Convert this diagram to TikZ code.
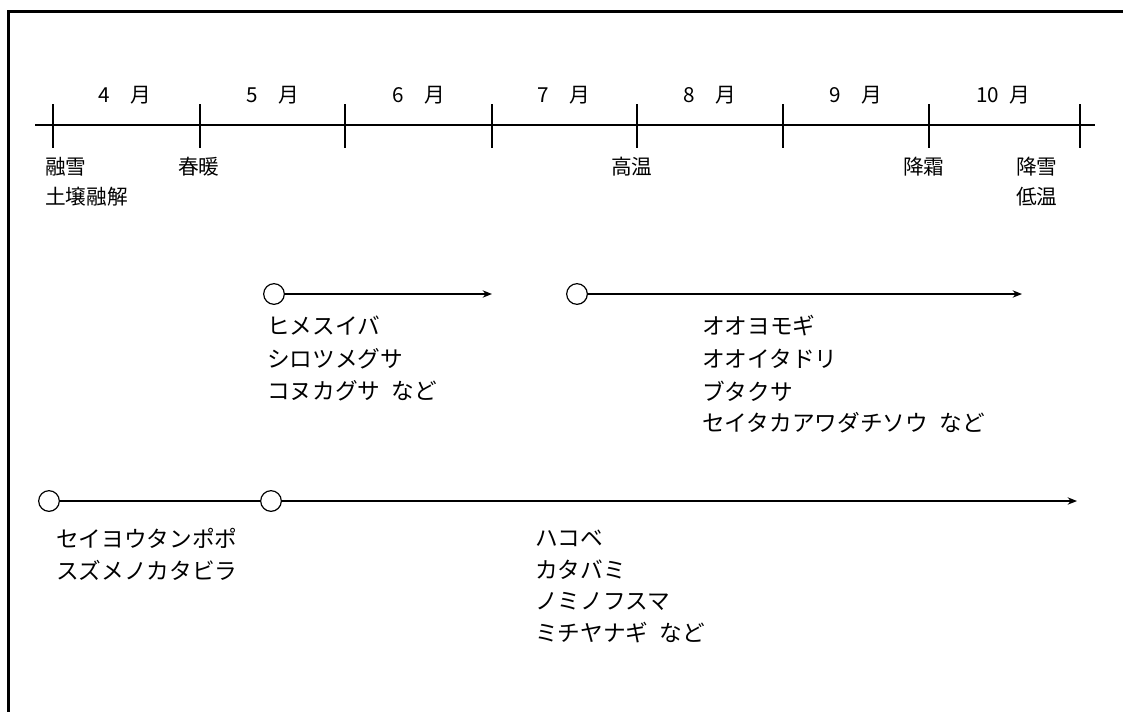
\documentclass[tikz,border=0pt]{standalone}
\usepackage{fontspec}
\setmainfont{Noto Sans CJK JP}
\usetikzlibrary{arrows.meta}
\begin{document}
\begin{tikzpicture}[x=0.75pt,y=-0.75pt,
  frameline/.style={line width=1.9pt},
  axisline/.style={line width=1.3pt},
  tickline/.style={line width=1pt},
  lbl/.style={font=\fontsize{15.5}{18}\selectfont, inner sep=0pt, anchor=west},
  kana/.style={font=\fontsize{17}{20}\selectfont, inner sep=0pt, anchor=west},
  mon/.style={font=\fontsize{15.5}{18}\selectfont, inner sep=0pt, anchor=center},
  startpt/.style={circle, draw, line width=0.9pt, minimum size=15.5pt, inner sep=0pt, fill=white},
  period/.style={line width=1.3pt, -{Stealth[length=7pt,width=5.5pt]}},
  link/.style={line width=1.3pt}
]
\useasboundingbox (0,0) rectangle (1123,711);
% frame
\draw[frameline] (8.5,715) -- (8.5,11.5) -- (1127,11.5);
% axis
\coordinate (axL) at (35,125);
\coordinate (axR) at (1095,125);
\draw[axisline] (axL) -- (axR);
\foreach \n/\x in {t1/53,t2/200,t3/345,t4/492,t5/637,t6/783,t7/929,t8/1080}{
  \coordinate (\n a) at (\x,104);
  \coordinate (\n b) at (\x,148);
  \draw[tickline] (\n a) -- (\n b);
}
% months
\node[mon] (m4) at (125,95) {4　月};
\node[mon] (m5) at (273,95) {5　月};
\node[mon] (m6) at (419,95) {6　月};
\node[mon] (m7) at (564,95) {7　月};
\node[mon] (m8) at (710,95) {8　月};
\node[mon] (m9) at (856,95) {9　月};
\node[mon] (m10) at (1003,95) {10\enspace 月};
% events
\node[lbl] (ev1) at (45,167) {融雪};
\node[lbl] (ev2) at (45,197) {土壌融解};
\node[lbl] (ev3) at (178,167) {春暖};
\node[lbl] (ev4) at (611,167) {高温};
\node[lbl] (ev5) at (903,167) {降霜};
\node[lbl] (ev6) at (1016,167) {降雪};
\node[lbl] (ev7) at (1016,197) {低温};
% row 1
\node[startpt] (c1) at (274,294) {};
\coordinate (e1) at (492,294);
\draw[period] (c1) -- (e1);
\node[startpt] (c2) at (577,294) {};
\coordinate (e2) at (1022,294);
\draw[period] (c2) -- (e2);
\node[kana] (a1) at (267,326) {ヒメスイバ};
\node[kana] (a2) at (267,359) {シロツメグサ};
\node[kana] (a3) at (267,391) {コヌカグサ\enspace など};
\node[kana] (b1) at (702,326) {オオヨモギ};
\node[kana] (b2) at (702,359) {オオイタドリ};
\node[kana] (b3) at (702,391) {ブタクサ};
\node[kana] (b4) at (702,423) {セイタカアワダチソウ\enspace など};
% row 2
\node[startpt] (c3) at (49,501) {};
\node[startpt] (c4) at (271,501) {};
\coordinate (e3) at (1077,501);
\draw[link] (c3) -- (c4);
\draw[period] (c4) -- (e3);
\node[kana] (d1) at (56,538) {セイヨウタンポポ};
\node[kana] (d2) at (56,570) {スズメノカタビラ};
\node[kana] (f1) at (535,538) {ハコベ};
\node[kana] (f2) at (535,570) {カタバミ};
\node[kana] (f3) at (535,601) {ノミノフスマ};
\node[kana] (f4) at (535,633) {ミチヤナギ\enspace など};
\end{tikzpicture}
\end{document}
